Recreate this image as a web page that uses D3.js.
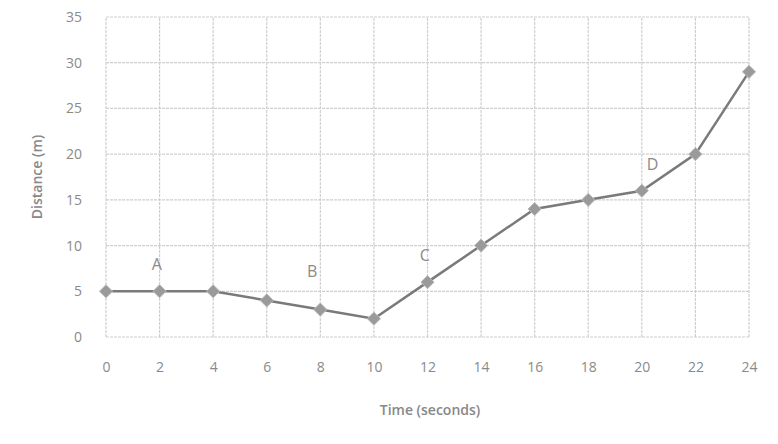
<!DOCTYPE html>
<html><head><meta charset="utf-8">
<script src="https://cdn.jsdelivr.net/npm/d3@7"></script>
<style>body{margin:0;background:#fff}svg{display:block}</style>
</head><body>
<svg id="c" width="778" height="444"></svg>
<script>
const times = [0,2,4,6,8,10,12,14,16,18,20,22,24];
const distances = [5,5,5,4,3,2,6,10,14,15,16,20,29];
const xTicks = [0,2,4,6,8,10,12,14,16,18,20,22,24];
const yTicks = [0,5,10,15,20,25,30,35];
const labels = [{t:"A",x:1.9,y:7.3},{t:"B",x:7.7,y:6.6},{t:"C",x:11.9,y:8.3},{t:"D",x:20.4,y:18.3}];

const svg = d3.select("#c");
const m = {l:106, r:29, t:17, b:107};
const W = 778, H = 444;
const x = d3.scaleLinear().domain([0,24]).range([m.l, W-m.r]);
const y = d3.scaleLinear().domain([0,35]).range([H-m.b, m.t]);
const font = "'Open Sans', sans-serif";
const tc = "#8a8a8a";

const g = svg.append("g");
g.selectAll(".gx").data(xTicks).join("line")
  .attr("x1",d=>x(d)).attr("x2",d=>x(d)).attr("y1",y(0)).attr("y2",y(35))
  .attr("stroke","#cfcfcf").attr("stroke-width",1.2).attr("stroke-dasharray","3,1");
g.selectAll(".gy").data(yTicks).join("line")
  .attr("x1",x(0)).attr("x2",x(24)).attr("y1",d=>y(d)).attr("y2",d=>y(d))
  .attr("stroke","#cfcfcf").attr("stroke-width",1.2).attr("stroke-dasharray","3,1");

const xa = svg.append("g").attr("transform",`translate(0,${y(0)})`)
  .call(d3.axisBottom(x).tickValues(xTicks).tickSize(0).tickPadding(25));
const ya = svg.append("g").attr("transform",`translate(${x(0)},0)`)
  .call(d3.axisLeft(y).tickValues(yTicks).tickSize(0).tickPadding(24));
[xa,ya].forEach(a=>{a.select(".domain").remove();
  a.selectAll("text").attr("fill",tc).style("font-family",font).style("font-size","14px");});

svg.append("path").datum(times.map((t,i)=>[t,distances[i]]))
  .attr("fill","none").attr("stroke","#7a7a7a").attr("stroke-width",2.5)
  .attr("d",d3.line().x(d=>x(d[0])).y(d=>y(d[1])));
svg.selectAll(".pt").data(times.map((t,i)=>[t,distances[i]])).join("path")
  .attr("transform",d=>`translate(${x(d[0])},${y(d[1])})`)
  .attr("d",d3.symbol(d3.symbolDiamond2,110)())
  .attr("fill","#9a9a9a").attr("stroke","#bbb").attr("stroke-width",1);

svg.selectAll(".lb").data(labels).join("text")
  .attr("x",d=>x(d.x)).attr("y",d=>y(d.y)).attr("text-anchor","middle")
  .attr("fill","#8a8a8a").style("font-family",font).style("font-size","16px").text(d=>d.t);

svg.append("text").attr("x",430).attr("y",415).attr("text-anchor","middle")
  .attr("fill","#888").style("font-family",font).style("font-size","14px").style("font-weight","600")
  .text("Time (seconds)");
svg.append("text").attr("transform",`translate(42,${(y(0)+y(35))/2}) rotate(-90)`).attr("text-anchor","middle")
  .attr("fill","#888").style("font-family",font).style("font-size","14px").style("font-weight","600")
  .text("Distance (m)");
</script>
</body></html>
